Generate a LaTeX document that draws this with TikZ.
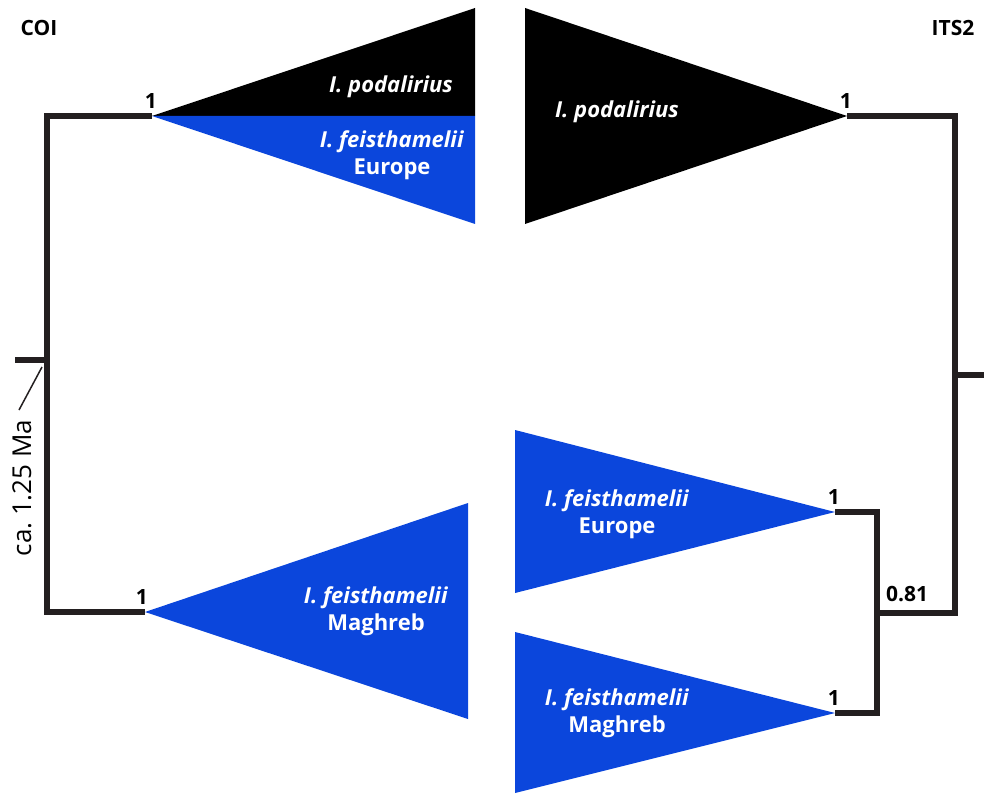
\documentclass[tikz,border=0pt]{standalone}
\usepackage{fontspec}
\setmainfont{Open Sans}
\usetikzlibrary{positioning}
\definecolor{cladeblue}{HTML}{0B46DC}
\definecolor{branchink}{HTML}{231F20}
\tikzset{
  branch/.style={line width=5.5pt, draw=branchink, line join=miter},
  support/.style={font=\bfseries\fontsize{21}{23}\selectfont, inner sep=0pt, anchor=south},
  header/.style={font=\bfseries\fontsize{21}{23}\selectfont, inner sep=0pt},
  taxon/.style={font=\bfseries\fontsize{22}{27}\selectfont, text=white, align=center, inner sep=0pt},
  cladeblack/.style={fill=black},
  cladeblu/.style={fill=cladeblue},
}
\newcommand{\taxname}[1]{\textit{#1}}
\frenchspacing
\begin{document}
\begin{tikzpicture}[x=1pt, y=-1pt]
  \useasboundingbox (0,0) rectangle (984,794);

  % COI tree
  \coordinate (rootL) at (15,360);
  \coordinate (nodeL) at (47,360);
  \coordinate (podL) at (152,116);
  \coordinate (magL) at (145,612);
  \draw[branch] (podL) -| (nodeL) |- (magL);
  \draw[branch] (rootL) -- (nodeL);
  \fill[cladeblack] (podL) -- (475,8) -- (475,116) -- cycle;
  \fill[cladeblu] (podL) -- (475,116) -- (475,224) -- cycle;
  \fill[cladeblu] (magL) -- (468,503) -- (468,719) -- cycle;

  % ITS2 tree
  \coordinate (rootR) at (984,375);
  \coordinate (nodeR) at (955,375);
  \coordinate (podR) at (847,116);
  \coordinate (feiR) at (877,613);
  \coordinate (eurR) at (835,512);
  \coordinate (magR) at (835,713);
  \draw[branch] (podR) -| (nodeR) |- (feiR);
  \draw[branch] (eurR) -| (feiR) |- (magR);
  \draw[branch] (nodeR) -- (rootR);
  \fill[cladeblack] (podR) -- (525,8) -- (525,224) -- cycle;
  \fill[cladeblu] (eurR) -- (515,430) -- (515,593) -- cycle;
  \fill[cladeblu] (magR) -- (515,632) -- (515,793) -- cycle;

  % headers and age
  \node[header] (coi) at (39,28) {COI};
  \node[header] (its) at (953,28) {ITS2};
  \node[rotate=90, font=\fontsize{26}{28}\selectfont, inner sep=0pt] (age) at (22,488) {ca. 1.25 Ma};
  \coordinate (agetick) at (42,367);
  \coordinate (agefoot) at (19,410);
  \draw[line width=1.5pt, branchink] (agetick) -- (agefoot);

  % support values
  \node[support, above left=7pt and -5pt of podL] (sPodL) {1};
  \node[support, above left=7pt and -3pt of magL] (sMagL) {1};
  \node[support, above left=7pt and -5pt of podR] (sPodR) {1};
  \node[support, above left=7pt and -5pt of eurR] (sEurR) {1};
  \node[support, above left=7pt and -5pt of magR] (sMagR) {1};
  \node[support, anchor=center] (sFeiR) at (907,594) {0.81};

  % clade labels
  \node[taxon] (tPodL) at (391,87) {\taxname{I. podalirius}};
  \node[taxon] (tEurL) at (392,155) {\taxname{I. feisthamelii}\\Europe};
  \node[taxon] (tMagL) at (376,611) {\taxname{I. feisthamelii}\\Maghreb};
  \node[taxon] (tPodR) at (617,112) {\taxname{I. podalirius}};
  \node[taxon] (tEurR) at (617,514) {\taxname{I. feisthamelii}\\Europe};
  \node[taxon] (tMagR) at (617,713) {\taxname{I. feisthamelii}\\Maghreb};
\end{tikzpicture}
\end{document}
